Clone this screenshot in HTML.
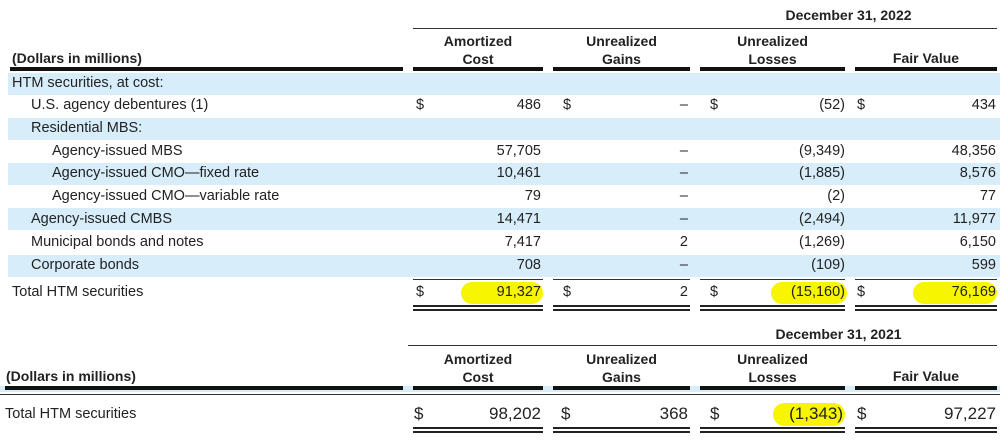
<!DOCTYPE html>
<html><head><meta charset="utf-8"><style>
body{margin:0;width:1000px;height:444px;background:#fff;position:relative;overflow:hidden;font-family:"Liberation Sans",sans-serif;color:#222;font-size:14.5px}
div{position:absolute;white-space:nowrap}
.b{font-weight:bold;font-size:14px}
.c{text-align:center}
.r{text-align:right}
.band{background:#d7edfa;left:8px;width:992px;height:22px}
.tk{height:4px;background:#111}
.tn{height:1px;background:#333}
.hl{background:#f7f500;border-radius:12px;height:22px}
.col{top:94px;line-height:22.8px}
</style></head><body>
<div class="b c" style="left:700px;width:297px;top:7px">December 31, 2022</div>
<div class="tn" style="left:413px;width:584px;top:28px"></div>
<div class="b c" style="left:413px;width:130px;top:32px;line-height:18px">Amortized<br>Cost</div>
<div class="b c" style="left:553px;width:137px;top:32px;line-height:18px">Unrealized<br>Gains</div>
<div class="b c" style="left:700px;width:145px;top:32px;line-height:18px">Unrealized<br>Losses</div>
<div class="b c" style="left:855px;width:142px;top:50px">Fair Value</div>
<div class="b" style="left:12px;top:50px">(Dollars in millions)</div>
<div class="tk" style="left:10px;width:393px;top:67px"></div>
<div class="tk" style="left:413px;width:130px;top:67px"></div>
<div class="tk" style="left:553px;width:137px;top:67px"></div>
<div class="tk" style="left:700px;width:145px;top:67px"></div>
<div class="tk" style="left:855px;width:142px;top:67px"></div>

<div class="band" style="top:73px"></div>
<div class="band" style="top:118px"></div>
<div class="band" style="top:163px"></div>
<div class="band" style="top:208px"></div>
<div class="band" style="top:255px"></div>

<div style="left:12px;top:72px;line-height:22.8px">HTM securities, at cost:</div>
<div class="col" style="left:31px">U.S. agency debentures (1)<br>Residential MBS:</div>
<div class="col" style="left:52px">&nbsp;<br>&nbsp;<br>Agency-issued MBS<br>Agency-issued CMO—fixed rate<br>Agency-issued CMO—variable rate</div>
<div class="col" style="left:31px">&nbsp;<br>&nbsp;<br>&nbsp;<br>&nbsp;<br>&nbsp;<br>Agency-issued CMBS<br>Municipal bonds and notes<br>Corporate bonds</div>
<div style="left:12px;top:284px">Total HTM securities</div>

<div class="col" style="left:416px">$</div><div class="col" style="left:563px">$</div><div class="col" style="left:710px">$</div><div class="col" style="left:857px">$</div>
<div class="hl" style="left:461px;width:82px;top:282px"></div>
<div class="hl" style="left:771px;width:76px;top:282px"></div>
<div class="hl" style="left:913px;width:84px;top:282px"></div>
<div style="left:416px;top:284px">$</div><div style="left:563px;top:284px">$</div><div style="left:710px;top:284px">$</div><div style="left:857px;top:284px">$</div>

<div class="r col" style="left:413px;width:128px">486<br>&nbsp;<br>57,705<br>10,461<br>79<br>14,471<br>7,417<br>708</div>
<div class="r col" style="left:553px;width:135px">–<br>&nbsp;<br>–<br>–<br>–<br>–<br>2<br>–</div>
<div class="r col" style="left:700px;width:145px">(52)<br>&nbsp;<br>(9,349)<br>(1,885)<br>(2)<br>(2,494)<br>(1,269)<br>(109)</div>
<div class="r col" style="left:855px;width:141px">434<br>&nbsp;<br>48,356<br>8,576<br>77<br>11,977<br>6,150<br>599</div>

<div class="r" style="left:413px;width:128px;top:284px">91,327</div>
<div class="r" style="left:553px;width:135px;top:284px">2</div>
<div class="r" style="left:700px;width:145px;top:284px">(15,160)</div>
<div class="r" style="left:855px;width:141px;top:284px">76,169</div>

<div class="tn" style="left:413px;width:130px;top:279px"></div><div class="tn" style="left:553px;width:137px;top:279px"></div><div class="tn" style="left:700px;width:145px;top:279px"></div><div class="tn" style="left:855px;width:142px;top:279px"></div>
<div style="left:413px;width:130px;top:305px;height:2px;border-top:2px solid #222;border-bottom:2px solid #222"></div>
<div style="left:553px;width:137px;top:305px;height:2px;border-top:2px solid #222;border-bottom:2px solid #222"></div>
<div style="left:700px;width:145px;top:305px;height:2px;border-top:2px solid #222;border-bottom:2px solid #222"></div>
<div style="left:855px;width:142px;top:305px;height:2px;border-top:2px solid #222;border-bottom:2px solid #222"></div>

<div class="b c" style="left:690px;width:297px;top:326px">December 31, 2021</div>
<div class="tn" style="left:408px;width:589px;top:345px"></div>
<div class="b c" style="left:413px;width:130px;top:350px;line-height:18px">Amortized<br>Cost</div>
<div class="b c" style="left:553px;width:137px;top:350px;line-height:18px">Unrealized<br>Gains</div>
<div class="b c" style="left:700px;width:145px;top:350px;line-height:18px">Unrealized<br>Losses</div>
<div class="b c" style="left:855px;width:142px;top:368px">Fair Value</div>
<div class="b" style="left:6px;top:368px">(Dollars in millions)</div>
<div style="left:0;width:1000px;top:386px;height:6px;background:#d7edfa"></div>
<div class="tk" style="left:5px;width:398px;top:386px"></div>
<div class="tk" style="left:413px;width:130px;top:386px"></div>
<div class="tk" style="left:553px;width:137px;top:386px"></div>
<div class="tk" style="left:700px;width:145px;top:386px"></div>
<div class="tk" style="left:855px;width:142px;top:386px"></div>
<div class="tn" style="left:0;width:1000px;top:394px"></div>

<div class="hl" style="left:773px;width:72px;top:403px;height:23px"></div>
<div style="left:5px;top:406px">Total HTM securities</div>
<div style="left:414px;top:404px;font-size:17px">$</div><div style="left:561px;top:404px;font-size:17px">$</div><div style="left:710px;top:404px;font-size:17px">$</div><div style="left:857px;top:404px;font-size:17px">$</div>
<div class="r" style="left:413px;width:128px;top:404px;font-size:17px">98,202</div>
<div class="r" style="left:553px;width:135px;top:404px;font-size:17px">368</div>
<div class="r" style="left:700px;width:143px;top:404px;font-size:17px">(1,343)</div>
<div class="r" style="left:855px;width:141px;top:404px;font-size:17px">97,227</div>
<div style="left:413px;width:130px;top:427px;height:2px;border-top:2px solid #222;border-bottom:2px solid #222"></div>
<div style="left:553px;width:137px;top:427px;height:2px;border-top:2px solid #222;border-bottom:2px solid #222"></div>
<div style="left:700px;width:145px;top:427px;height:2px;border-top:2px solid #222;border-bottom:2px solid #222"></div>
<div style="left:855px;width:142px;top:427px;height:2px;border-top:2px solid #222;border-bottom:2px solid #222"></div>
</body></html>
